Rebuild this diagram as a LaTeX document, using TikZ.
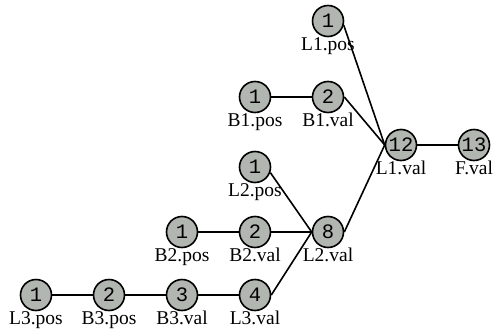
\documentclass[tikz,border=0pt]{standalone}
\usepackage{fontspec}
\setmainfont{Liberation Serif}
\newfontfamily\digitfont{Liberation Mono}
\definecolor{nodegray}{RGB}{178,182,177}
\begin{document}
\begin{tikzpicture}[x=1pt,y=-1pt,
  vnode/.style={circle,draw=black,line width=1.6pt,fill=nodegray,minimum size=31pt,inner sep=0pt,
    font=\digitfont\fontsize{20.5}{20}\selectfont},
  vlabel/.style={anchor=base,inner sep=0pt,font=\fontsize{19.5}{20}\selectfont},
  wire/.style={line width=1.6pt,draw=black}]
\useasboundingbox (0,0) rectangle (495,332);
% value nodes
\node[vnode] (l3pos) at (36,295) {1};
\node[vnode] (b3pos) at (109,295) {2};
\node[vnode] (b3val) at (182,295) {3};
\node[vnode] (l3val) at (255,295) {4};
\node[vnode] (b2pos) at (182,232) {1};
\node[vnode] (b2val) at (255,232) {2};
\node[vnode] (l2val) at (328,232) {8};
\node[vnode] (l2pos) at (255,167) {1};
\node[vnode] (b1pos) at (255,97) {1};
\node[vnode] (b1val) at (328,97) {2};
\node[vnode] (l1pos) at (328,21) {1};
\node[vnode] (l1val) at (401,145) {12};
\node[vnode] (fval) at (474,145) {13};
% names under the nodes
\node[vlabel] (l3posl) at ([yshift=-29pt]l3pos.center) {L3.pos};
\node[vlabel] (b3posl) at ([yshift=-29pt]b3pos.center) {B3.pos};
\node[vlabel] (b3vall) at ([yshift=-29pt]b3val.center) {B3.val};
\node[vlabel] (l3vall) at ([yshift=-29pt]l3val.center) {L3.val};
\node[vlabel] (b2posl) at ([yshift=-29pt]b2pos.center) {B2.pos};
\node[vlabel] (b2vall) at ([yshift=-29pt]b2val.center) {B2.val};
\node[vlabel] (l2vall) at ([yshift=-29pt]l2val.center) {L2.val};
\node[vlabel] (l2posl) at ([yshift=-29pt]l2pos.center) {L2.pos};
\node[vlabel] (b1posl) at ([yshift=-29pt]b1pos.center) {B1.pos};
\node[vlabel] (b1vall) at ([yshift=-29pt]b1val.center) {B1.val};
\node[vlabel] (l1posl) at ([yshift=-29pt]l1pos.center) {L1.pos};
\node[vlabel] (l1vall) at ([yshift=-29pt]l1val.center) {L1.val};
\node[vlabel] (fvall) at ([yshift=-29pt]fval.center) {F.val};
% connections
\draw[wire] (l3pos.east) -- (b3pos.west);
\draw[wire] (b3pos.east) -- (b3val.west);
\draw[wire] (b3val.east) -- (l3val.west);
\draw[wire] (b2pos.east) -- (b2val.west);
\draw[wire] (b2val.east) -- (l2val.west);
\draw[wire] (l3val.east) -- (l2val.west);
\draw[wire] (l2pos.-20) -- (l2val.west);
\draw[wire] (b1pos.east) -- (b1val.west);
\draw[wire] (b1val.east) -- (l1val.west);
\draw[wire] (l1pos.-15) -- (l1val.west);
\draw[wire] (l2val.east) -- (l1val.west);
\draw[wire] (l1val.east) -- (fval.west);
\end{tikzpicture}
\end{document}
